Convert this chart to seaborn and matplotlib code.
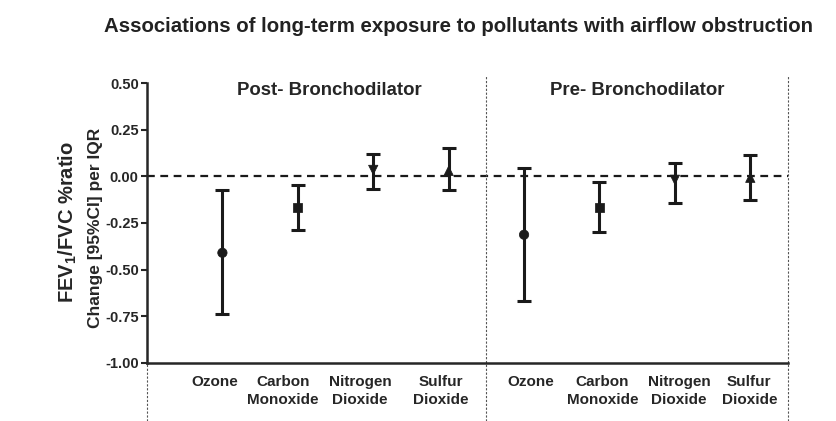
import numpy as np
import pandas as pd
import matplotlib
matplotlib.use("Agg")
import matplotlib.pyplot as plt
import matplotlib.transforms as mtransforms
import seaborn as sns

# Data (change in FEV1/FVC % ratio per IQR, 95% CI)
pollutants = ["Ozone", "Carbon\nMonoxide", "Nitrogen\nDioxide", "Sulfur\nDioxide"]
post_est = [-0.41, -0.168, 0.035, 0.030]
post_lo = [-0.74, -0.29, -0.068, -0.073]
post_hi = [-0.075, -0.045, 0.123, 0.150]
pre_est = [-0.313, -0.166, -0.018, -0.007]
pre_lo = [-0.67, -0.30, -0.14, -0.129]
pre_hi = [0.045, -0.03, 0.073, 0.117]
panels = ["Post- Bronchodilator", "Pre- Bronchodilator"]
yticks = [0.50, 0.25, 0.00, -0.25, -0.50, -0.75, -1.00]

sns.set_style("ticks")
plt.rcParams["font.family"] = ["Liberation Sans", "DejaVu Sans"]
plt.rcParams["font.weight"] = "bold"
plt.rcParams["mathtext.fontset"] = "custom"
plt.rcParams["mathtext.bf"] = "Liberation Sans:bold"

df = pd.DataFrame({
    "pollutant": pollutants * 2,
    "panel": [panels[0]] * 4 + [panels[1]] * 4,
    "est": post_est + pre_est,
    "lo": post_lo + pre_lo,
    "hi": post_hi + pre_hi,
})
df["x"] = [1, 2, 3, 4, 5, 6, 7, 8]

fig = plt.figure(figsize=(8.37, 4.21), dpi=100)
ax = fig.add_axes([147 / 837, 1 - 362.7 / 421, (788 - 147) / 837, (362.7 - 83.3) / 421])

# error bars
ax.errorbar(df["x"], df["est"], yerr=[df["est"] - df["lo"], df["hi"] - df["est"]],
            fmt="none", ecolor="#1a1a1a", elinewidth=2.2, capsize=5, capthick=2.2, zorder=3)

marker_map = {pollutants[0]: "o", pollutants[1]: "s", pollutants[2]: "v", pollutants[3]: "^"}
sns.scatterplot(data=df, x="x", y="est", style="pollutant", markers=marker_map,
                color="#1a1a1a", s=45, edgecolor="#1a1a1a", legend=False, ax=ax, zorder=4)

ax.axhline(0, color="#1a1a1a", ls=(0, (3.5, 2.5)), lw=1.6, zorder=2)

# panel separators
for xv in [4.5, 8.5]:
    ax.axvline(xv, ymin=-0.21, ymax=1.027, color="#555555", ls=(0, (2, 1.5)), lw=0.8, clip_on=False)
ax.axvline(0, ymin=-0.21, ymax=0, color="#555555", ls=(0, (2, 1.5)), lw=0.8, clip_on=False)

ax.set_xlim(0, 8.5)
ax.set_ylim(-1.0, 0.5)
ax.set_yticks(yticks)
ax.set_yticklabels([f"{v:.2f}" for v in yticks], fontsize=10.5, fontweight="bold")
ax.set_xticks(df["x"])
ax.set_xticklabels(df["pollutant"], fontsize=11, fontweight="bold", va="top", linespacing=1.35)
ax.tick_params(axis="x", length=0, pad=9)
ax.tick_params(axis="y", length=4, width=1.5, pad=2)
# the printed labels sit a little off their columns
label_shift = [-8, -15, -13, -8, 7, 3, 4, -1]
for lab, dx in zip(ax.get_xticklabels(), label_shift):
    lab.set_transform(lab.get_transform() + mtransforms.ScaledTranslation(dx / 100, 0, fig.dpi_scale_trans))
ax.set_xlabel("")
ax.set_ylabel("")
sns.despine(ax=ax)
ax.spines["left"].set_linewidth(1.8)
ax.spines["bottom"].set_linewidth(1.8)

for px, name in zip([2.42, 6.5], panels):
    ax.text(px, 0.46, name, ha="center", va="center", fontsize=13.4, fontweight="bold")

fig.text(68 / 837, 1 - 222 / 421, "FEV$_\\mathbf{1}$/FVC %ratio", rotation=90, ha="center", va="center",
         fontsize=14.5, fontweight="bold")
fig.text(96 / 837, 1 - 228 / 421, "Change [95%CI] per IQR", rotation=90, ha="center", va="center",
         fontsize=12.5, fontweight="bold")

fig.text(459 / 837, 1 - 27 / 421, "Associations of long-term exposure to pollutants with airflow obstruction",
         ha="center", va="center", fontsize=14.7, fontweight="bold", color="#222222")

fig.savefig("out.png", dpi=100)
